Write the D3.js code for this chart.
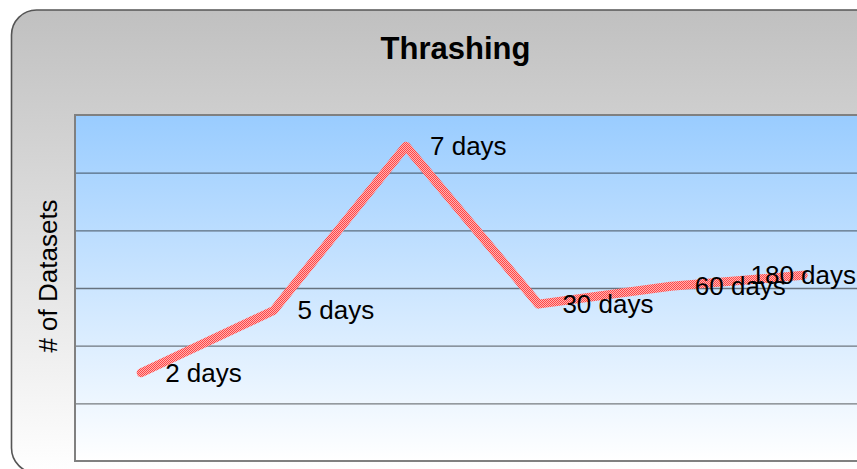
<!DOCTYPE html>
<html>
<head>
<meta charset="utf-8">
<script src="https://cdn.jsdelivr.net/npm/d3@7/dist/d3.min.js"></script>
<style>
  html, body { margin: 0; padding: 0; background: #ffffff; overflow: hidden; }
  svg { display: block; font-family: "Liberation Sans", Arial, sans-serif; }
</style>
</head>
<body>
<svg id="chart" width="857" height="469"></svg>
<script>
// Retention periods and how many datasets thrash at each
const categories = ["2 days", "5 days", "7 days", "30 days", "60 days", "180 days"];
const datasetCounts = [15.3, 26.1, 54.6, 27.2, 30.3, 32.2];
const yTicks = [0, 10, 20, 30, 40, 50, 60];
const chartTitle = "Thrashing";
const yAxisTitle = "# of Datasets";

const svg = d3.select("#chart");
const defs = svg.append("defs");
const svgWidth = +svg.attr("width");

// Frame and plot geometry
const frame = { x: 11.5, y: 10, w: 888, h: 463, r: 25 };
const plot = { left: 75, top: 115, right: 869.4, bottom: 461 };

// Backgrounds
const frameGrad = defs.append("linearGradient")
  .attr("id", "frameGrad").attr("x1", 0).attr("y1", 0).attr("x2", 0).attr("y2", 1);
frameGrad.append("stop").attr("offset", "0%").attr("stop-color", "#c0c0c0");
frameGrad.append("stop").attr("offset", "100%").attr("stop-color", "#ffffff");

const plotGrad = defs.append("linearGradient")
  .attr("id", "plotGrad").attr("x1", 0).attr("y1", 0).attr("x2", 0).attr("y2", 1);
plotGrad.append("stop").attr("offset", "0%").attr("stop-color", "#99ccff");
plotGrad.append("stop").attr("offset", "100%").attr("stop-color", "#ffffff");

// Fine red/pink checker texture for the series line
const hatch = defs.append("pattern")
  .attr("id", "hatch").attr("patternUnits", "userSpaceOnUse")
  .attr("width", 2).attr("height", 2);
hatch.append("rect").attr("width", 2).attr("height", 2).attr("fill", "#ffb2b2");
hatch.append("rect").attr("x", 0).attr("y", 0).attr("width", 1).attr("height", 1).attr("fill", "#ff4545");
hatch.append("rect").attr("x", 1).attr("y", 1).attr("width", 1).attr("height", 1).attr("fill", "#ff4545");

svg.append("rect")
  .attr("x", frame.x).attr("y", frame.y)
  .attr("width", frame.w).attr("height", frame.h)
  .attr("rx", frame.r).attr("ry", frame.r)
  .attr("fill", "url(#frameGrad)")
  .attr("stroke", "#555").attr("stroke-width", 1.6);

// Scales
const x = d3.scalePoint()
  .domain(categories)
  .range([plot.left, plot.right])
  .padding(0.5);

const y = d3.scaleLinear()
  .domain([yTicks[0], yTicks[yTicks.length - 1]])
  .range([plot.bottom, plot.top]);

// Plot area
svg.append("rect")
  .attr("x", plot.left).attr("y", plot.top)
  .attr("width", plot.right - plot.left).attr("height", plot.bottom - plot.top)
  .attr("fill", "url(#plotGrad)");

// Horizontal gridlines
const grid = svg.append("g")
  .attr("transform", `translate(${plot.left},0)`)
  .call(d3.axisLeft(y)
    .tickValues(yTicks.slice(1, -1))
    .tickSize(-(plot.right - plot.left))
    .tickFormat(""));
grid.select(".domain").remove();
grid.selectAll(".tick line")
  .attr("stroke", "#000").attr("stroke-opacity", 0.5).attr("stroke-width", 1.3);

// Plot border
svg.append("rect")
  .attr("x", plot.left).attr("y", plot.top)
  .attr("width", plot.right - plot.left).attr("height", plot.bottom - plot.top)
  .attr("fill", "none")
  .attr("stroke", "#808080").attr("stroke-width", 2);

// Series line
const line = d3.line()
  .x((d, i) => x(categories[i]))
  .y(d => y(d));

svg.append("path")
  .datum(datasetCounts)
  .attr("d", line)
  .attr("fill", "none")
  .attr("stroke", "url(#hatch)")
  .attr("stroke-width", 9)
  .attr("stroke-linejoin", "round")
  .attr("stroke-linecap", "round");

// Point labels: right of each point, pulled back inside the view when they would overflow
const labels = svg.append("g")
  .selectAll("text")
  .data(datasetCounts)
  .join("text")
  .attr("x", (d, i) => x(categories[i]) + 24)
  .attr("y", d => y(d))
  .attr("dominant-baseline", "central")
  .attr("font-size", 26)
  .attr("fill", "#000")
  .text((d, i) => categories[i]);

labels.each(function () {
  const box = this.getBBox();
  const limit = svgWidth - 1;
  if (box.x + box.width > limit) {
    d3.select(this).attr("x", limit - box.width);
  }
});

// Title
svg.append("text")
  .attr("x", frame.x + frame.w / 2)
  .attr("y", 59)
  .attr("text-anchor", "middle")
  .attr("font-size", 31)
  .attr("font-weight", "bold")
  .attr("fill", "#000")
  .text(chartTitle);

// Y axis title
svg.append("text")
  .attr("transform", `translate(57,${(plot.top + plot.bottom) / 2 - 12}) rotate(-90)`)
  .attr("text-anchor", "middle")
  .attr("font-size", 26)
  .attr("fill", "#000")
  .text(yAxisTitle);
</script>
</body>
</html>
